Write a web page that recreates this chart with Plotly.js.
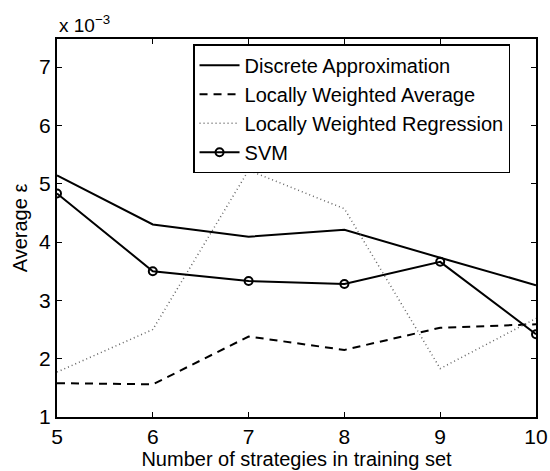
<!DOCTYPE html>
<html>
<head>
<meta charset="utf-8">
<script src="https://cdn.plot.ly/plotly-3.0.1.min.js"></script>
<style>html,body{margin:0;padding:0;background:#fff;}#chart{width:550px;height:471px;}</style>
</head>
<body>
<div id="chart"></div>
<script>
const xValues = [5, 6, 7, 8, 9, 10];
const discreteApprox = [5.14, 4.30, 4.09, 4.21, 3.73, 3.26];
const locallyWeightedAvg = [1.58, 1.56, 2.38, 2.15, 2.53, 2.59];
const locallyWeightedReg = [1.77, 2.50, 5.23, 4.57, 1.83, 2.69];
const svm = [4.83, 3.50, 3.33, 3.28, 3.66, 2.42];
const seriesNames = ["Discrete Approximation", "Locally Weighted Average", "Locally Weighted Regression", "SVM"];
const yTicks = [1, 2, 3, 4, 5, 6, 7];

const FONT = "Liberation Sans, Arial, Helvetica, sans-serif";

const traces = [
  {x: xValues, y: discreteApprox, name: seriesNames[0], mode: "lines",
   line: {color: "#000", width: 2}},
  {x: xValues, y: locallyWeightedAvg, name: seriesNames[1], mode: "lines",
   line: {color: "#000", width: 2, dash: "8px,6px"}},
  {x: xValues, y: locallyWeightedReg, name: seriesNames[2], mode: "lines",
   line: {color: "#666", width: 1.5, dash: "1px,3px"}},
  {x: xValues, y: svm, name: seriesNames[3], mode: "lines+markers",
   line: {color: "#000", width: 2},
   marker: {symbol: "circle-open", size: 8, color: "#000", line: {width: 2, color: "#000"}}}
];

const layout = {
  width: 550, height: 471,
  margin: {l: 57, r: 14, t: 39, b: 54},
  paper_bgcolor: "#fff", plot_bgcolor: "#fff",
  font: {family: FONT, color: "#000", size: 20},
  showlegend: true,
  legend: {
    x: 0.284, y: 0.986, xanchor: "left", yanchor: "top",
    bgcolor: "#fff", bordercolor: "#000", borderwidth: 1.5,
    font: {family: FONT, size: 20, color: "#000"},
    tracegroupgap: 0, itemwidth: 40
  },
  xaxis: {
    range: [5, 10], tickvals: xValues, ticktext: xValues.map(String),
    ticks: "inside", ticklen: 5, tickwidth: 1, tickcolor: "#000",
    showline: true, linecolor: "#000", linewidth: 2, mirror: "ticks",
    showgrid: false, zeroline: false,
    tickfont: {family: FONT, size: 21},
    title: {text: "Number of strategies in training set", font: {family: FONT, size: 20}, standoff: 0}
  },
  yaxis: {
    range: [1, 7.48], tickvals: yTicks, ticktext: yTicks.map(String),
    ticks: "inside", ticklen: 5, tickwidth: 1, tickcolor: "#000",
    showline: true, linecolor: "#000", linewidth: 2, mirror: "ticks",
    showgrid: false, zeroline: false,
    tickfont: {family: FONT, size: 21},
    title: {text: "Average ε", font: {family: FONT, size: 20}, standoff: 6}
  },
  annotations: [
    {xref: "paper", yref: "paper", x: 0, y: 1, xanchor: "left", yanchor: "bottom",
     yshift: 1, showarrow: false, text: "x 10<sup>−3</sup>",
     font: {family: FONT, size: 19, color: "#000"}}
  ]
};

Plotly.newPlot("chart", traces, layout, {displayModeBar: false, staticPlot: true});
</script>
</body>
</html>
